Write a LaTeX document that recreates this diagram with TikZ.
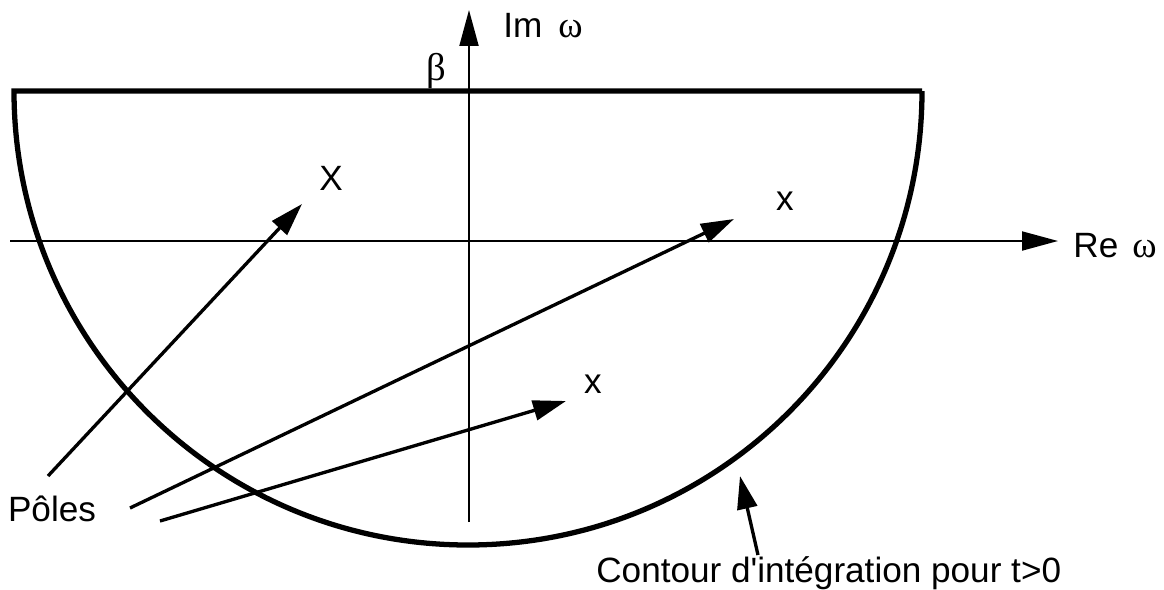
\documentclass[tikz,border=0pt]{standalone}
\usepackage{fontspec}
\setmainfont{Liberation Sans}
\newfontfamily\grk{Liberation Serif}
\usetikzlibrary{arrows.meta}

\begin{document}
\begin{tikzpicture}[
    x=0.02cm, y=-0.02cm,
    axe/.style={line width=1.1pt, -{Triangle[length=0.72cm, width=0.38cm]}},
    contour/.style={line width=3pt},
    fleche/.style={line width=1.9pt, -{Triangle[length=0.66cm, width=0.4cm]}},
    etiquette/.style={font=\fontsize{20}{24}\selectfont, inner sep=0pt},
    lettre/.style={font=\fontsize{22}{26}\grk, inner sep=0pt}
]
    \useasboundingbox (0,0) rectangle (1164,589);

    % Axes
    \coordinate (ybas) at (469,522);
    \coordinate (yhaut) at (469,10);
    \coordinate (xgauche) at (10,241);
    \coordinate (xdroite) at (1058,241);
    \draw[axe] (ybas) -- (yhaut);
    \draw[axe] (xgauche) -- (xdroite);
    \node[etiquette, anchor=base west] (im) at (503,37) {Im\hspace{0.32cm}{\grk\fontsize{21}{25}\selectfont ω}};
    \node[etiquette, anchor=base east] (re) at (1157,257) {Re\hspace{0.28cm}{\grk\fontsize{21}{25}\selectfont ω}};
    \node[lettre, anchor=base] (beta) at (436,80) {β};

    % Contour d'integration
    \coordinate (hg) at (14,91);
    \coordinate (hd) at (922,91);
    \draw[contour] (hd) -- (hg) arc[start angle=180, end angle=0, radius=454];

    % Poles
    \node[etiquette] (poleA) at (331,178) {X};
    \node[etiquette, anchor=base] (poleB) at (785,210) {x};
    \node[etiquette, anchor=base] (poleC) at (593,393) {x};
    \node[etiquette] (poles) at (52,509) {Pôles};
    \coordinate (dA) at (48,476);
    \coordinate (dB) at (130,508);
    \coordinate (dC) at (160,521);
    \coordinate (fA) at (302,204);
    \coordinate (fB) at (734,219);
    \coordinate (fC) at (566,401);
    \draw[fleche] (dA) -- (fA);
    \draw[fleche] (dB) -- (fB);
    \draw[fleche] (dC) -- (fC);

    % Legende du contour
    \node[etiquette, anchor=base west] (legende) at (596,582) {Contour d\textquotesingle intégration pour t>0};
    \coordinate (dL) at (758,555);
    \coordinate (fL) at (740,476);
    \draw[fleche] (dL) -- (fL);
\end{tikzpicture}
\end{document}
